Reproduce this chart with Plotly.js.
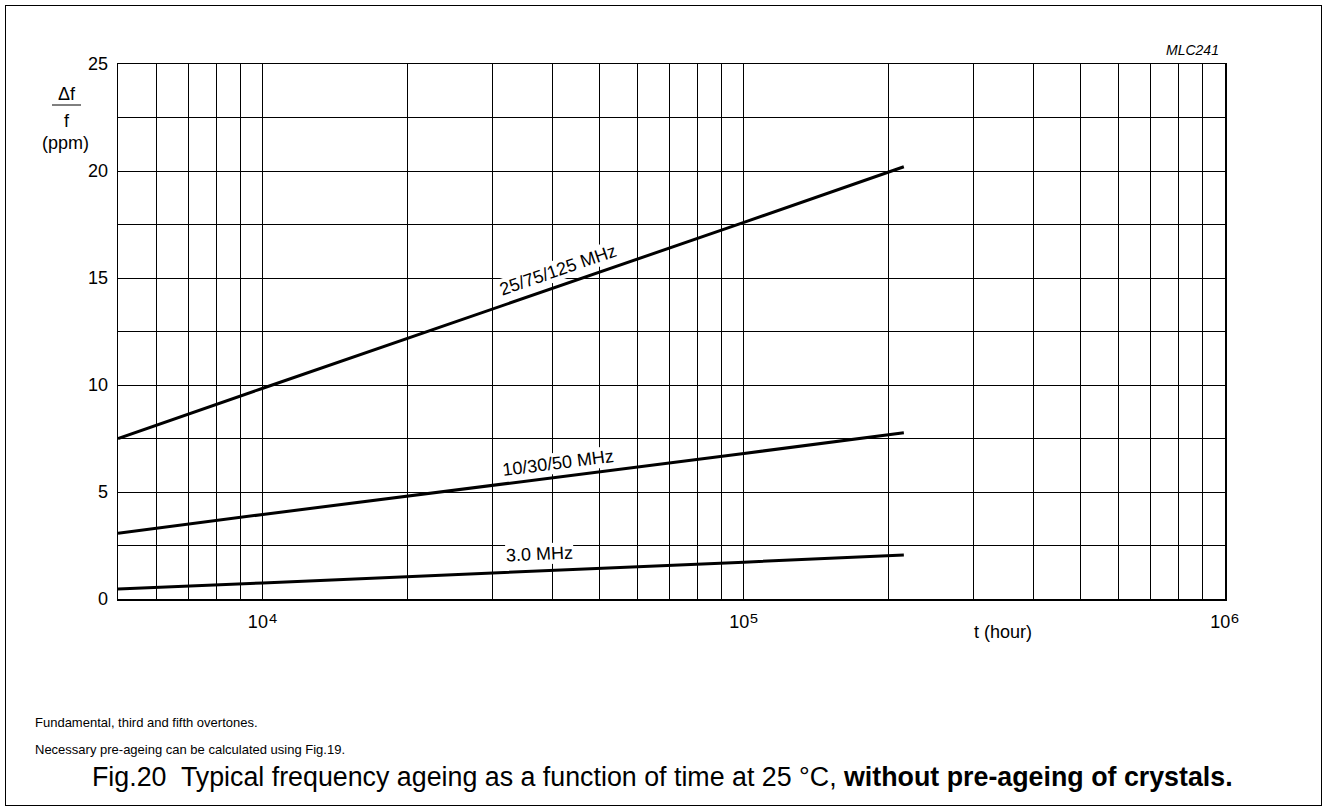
<!DOCTYPE html>
<html>
<head>
<meta charset="utf-8">
<script src="https://cdn.plot.ly/plotly-3.0.1.min.js"></script>
<style>
  html, body { margin: 0; padding: 0; background: #fff; }
  #wrap { position: relative; width: 1327px; height: 812px; }
  #chart { width: 1327px; height: 812px; }
  #frame { position: absolute; left: 5px; top: 5px; width: 1315px; height: 799px; border: 1.5px solid #000; pointer-events: none; }
</style>
</head>
<body>
<div id="wrap">
  <div id="chart"></div>
  <div id="frame"></div>
</div>
<script>
// ---- data ----
const hours = [5000, 10000, 100000, 215000];
const f25_75_125 = [7.5, 9.85, 17.6, 20.2];
const f10_30_50 = [3.07, 3.95, 6.8, 7.77];
const f3_0 = [0.47, 0.75, 1.72, 2.06];

const seriesNames = ['25/75/125 MHz', '10/30/50 MHz', '3.0 MHz'];

const xGrid = [6000, 7000, 8000, 9000, 10000, 20000, 30000, 40000, 50000, 60000, 70000, 80000, 90000,
               100000, 200000, 300000, 400000, 500000, 600000, 700000, 800000, 900000, 1000000];
const xTickVals = [10000, 100000, 1000000];
const xExponents = ['\u2074', '\u2075', '\u2076'];
const yGrid = [0, 2.5, 5, 7.5, 10, 12.5, 15, 17.5, 20, 22.5, 25];
const yTickVals = [0, 5, 10, 15, 20, 25];
const yTickText = ['0', '5', '10', '15', '20', '25'];

// ---- layout helpers ----
const W = 1327, H = 812;
const M = {l: 118, r: 102, t: 64, b: 213};
const PW = W - M.l - M.r, PH = H - M.t - M.b;
const px = x => (x - M.l) / PW;
const py = y => (H - M.b - y) / PH;
const FONT = 'Arial, "Liberation Sans", Helvetica, sans-serif';
const xRange = [Math.log10(5000), 6];
const yRange = [0, 25];
const xTickText = xExponents.map(e => '10<span style="font-size:23px">' + e + '</span>');

const line = {color: '#000', width: 3};
const traces = [f25_75_125, f10_30_50, f3_0].map((v, i) => ({
  type: 'scatter', mode: 'lines', x: hours, y: v, name: seriesNames[i],
  line: line, xaxis: 'x', yaxis: 'y'
}));
// invisible helper trace so the labelled overlay axes are drawn
traces.push({type: 'scatter', mode: 'none', x: [5000, 1000000], y: [0, 25], xaxis: 'x2', yaxis: 'y2', hoverinfo: 'skip', showlegend: false});

function ann(text, x, y, opts) {
  return Object.assign({
    text: text, xref: 'paper', yref: 'paper', x: px(x), y: py(y),
    showarrow: false, xanchor: 'center', yanchor: 'middle',
    font: {family: FONT, size: 18, color: '#000'}
  }, opts || {});
}

const annotations = [
  ann(seriesNames[0], 558, 270, {textangle: -19.1, bgcolor: '#fff', borderpad: 0}),
  ann(seriesNames[1], 558, 463, {textangle: -7.3, bgcolor: '#fff', borderpad: 0}),
  ann(seriesNames[2], 539, 554, {textangle: -2.5, bgcolor: '#fff', borderpad: 0}),
  ann('Δf', 67, 94),
  ann('f', 67, 121),
  ann('(ppm)', 65, 143),
  ann('<i>MLC241</i>', 1192, 50, {font: {family: FONT, size: 14, color: '#000'}}),
  ann('t (hour)', 1003, 632),
  ann('Fundamental, third and fifth overtones.', 33, 722, {xanchor: 'left', font: {family: FONT, size: 13, color: '#000'}}),
  ann('Necessary pre-ageing can be calculated using Fig.19.', 33, 749, {xanchor: 'left', font: {family: FONT, size: 13, color: '#000'}}),
  ann('Fig.20  Typical frequency ageing as a function of time at 25 °C, <b>without pre-ageing of crystals.</b>', 662, 777, {font: {family: FONT, size: 26.8, color: '#000'}})
];

const shapes = [
  {type: 'line', xref: 'paper', yref: 'paper', x0: px(52), x1: px(81), y0: py(105), y1: py(105), line: {color: '#000', width: 1}}
];

const tickfont = {family: FONT, size: 18, color: '#000'};
const layout = {
  width: W, height: H,
  margin: M,
  paper_bgcolor: '#fff', plot_bgcolor: '#fff',
  showlegend: false,
  font: {family: FONT, size: 18, color: '#000'},
  xaxis: {
    type: 'log', range: xRange,
    tickvals: xGrid, showticklabels: false,
    showgrid: true, gridcolor: '#000', gridwidth: 1,
    showline: true, linecolor: '#000', linewidth: 1.5, mirror: true,
    ticks: '', zeroline: false
  },
  yaxis: {
    range: yRange,
    tickvals: yGrid, showticklabels: false,
    showgrid: true, gridcolor: '#000', gridwidth: 1,
    showline: true, linecolor: '#000', linewidth: 1.5, mirror: true,
    ticks: '', zeroline: false
  },
  xaxis2: {
    type: 'log', range: xRange, overlaying: 'x', side: 'bottom',
    tickvals: xTickVals, ticktext: xTickText,
    showgrid: false, showline: false, zeroline: false, ticks: '',
    ticklabelstandoff: 10,
    tickfont: tickfont
  },
  yaxis2: {
    range: yRange, overlaying: 'y', side: 'left',
    tickvals: yTickVals, ticktext: yTickText,
    showgrid: false, showline: false, zeroline: false, ticks: '',
    ticklabelstandoff: 9,
    tickfont: tickfont
  },
  annotations: annotations,
  shapes: shapes
};

Plotly.newPlot('chart', traces, layout, {displayModeBar: false, staticPlot: true});
</script>
</body>
</html>
